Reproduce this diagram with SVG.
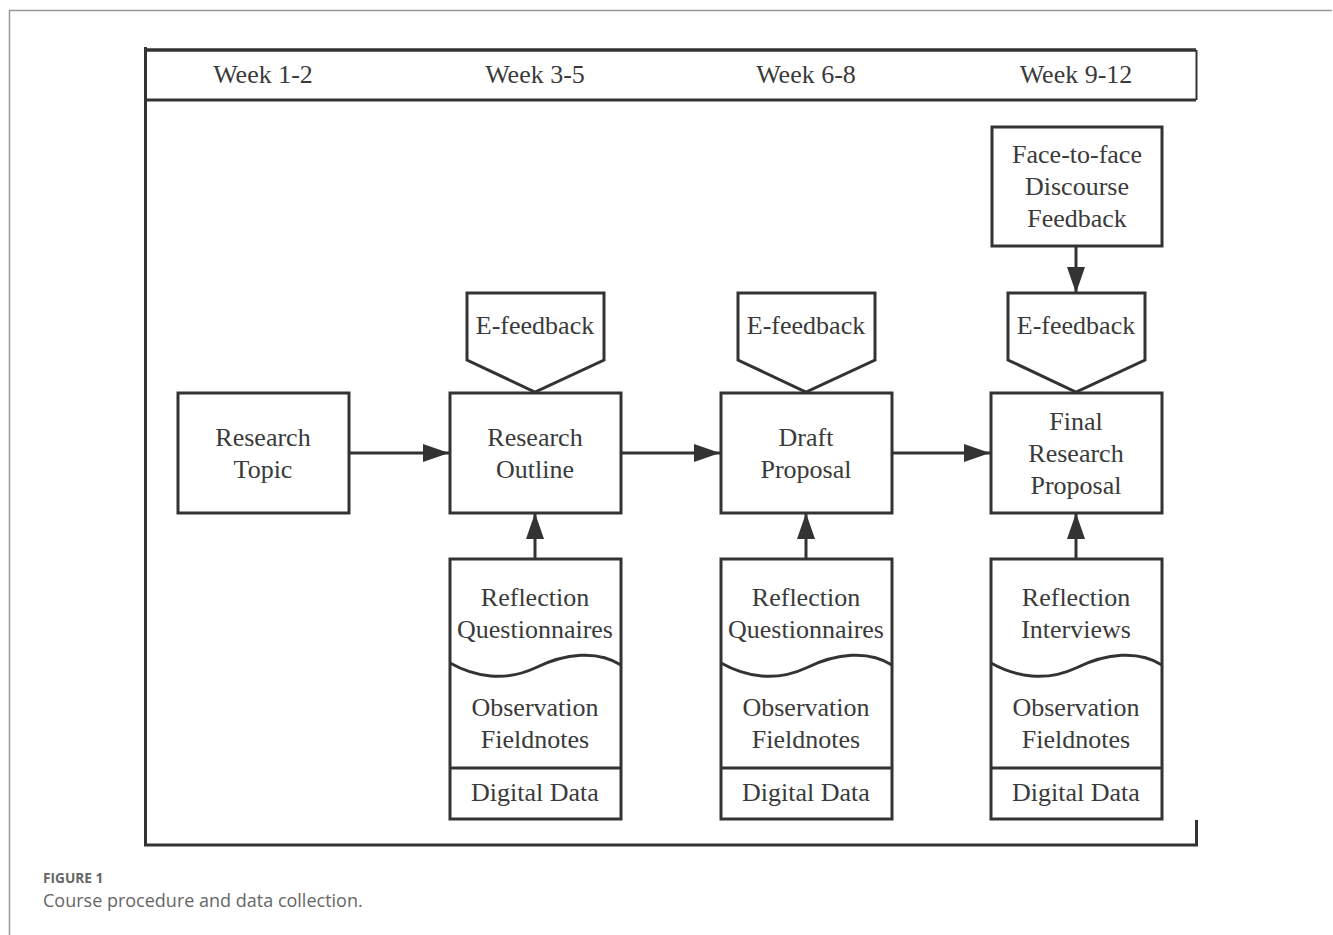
<svg xmlns="http://www.w3.org/2000/svg" width="1333" height="935" viewBox="0 0 1333 935">
<style>
.b{fill:#fff;stroke:#333;stroke-width:3}
.t{font-family:"Liberation Serif","Times New Roman",serif;font-size:26px;fill:#3a3a3a;text-anchor:middle}
.c{stroke:#333;stroke-width:3;fill:none}
.cap{font-family:"Open Sans","Noto Sans",sans-serif;fill:#666}
</style>
<defs>
<marker id="ah" viewBox="0 0 26 18" refX="26" refY="9" markerWidth="26" markerHeight="18" markerUnits="userSpaceOnUse" orient="auto">
<path d="M0,0 L26,9 L0,18 z" fill="#333"/>
</marker>
</defs>
<rect width="1333" height="935" fill="#fff"/>
<path d="M9.5,935 V10.5 H1332" fill="none" stroke="#999" stroke-width="1.5"/>
<g id="frame">
<path d="M145.5,47 V845 H1196.5 V820" fill="none" stroke="#333" stroke-width="3"/>
<path d="M145.5,50 H1196" fill="none" stroke="#333" stroke-width="3.5"/>
<path d="M145.5,100 H1196" fill="none" stroke="#333" stroke-width="3"/>
<path d="M1196.5,50 V100" fill="none" stroke="#333" stroke-width="2"/>
<text class="t" x="263" y="83">Week 1-2</text>
<text class="t" x="535" y="83">Week 3-5</text>
<text class="t" x="806" y="83">Week 6-8</text>
<text class="t" x="1076" y="83">Week 9-12</text>
</g>
<g id="connectors">
<path class="c" d="M349,453 H449" marker-end="url(#ah)"/>
<path class="c" d="M621,453 H720" marker-end="url(#ah)"/>
<path class="c" d="M892,453 H990" marker-end="url(#ah)"/>
<path class="c" d="M535,559 V513" marker-end="url(#ah)"/>
<path class="c" d="M806,559 V513" marker-end="url(#ah)"/>
<path class="c" d="M1076,559 V513" marker-end="url(#ah)"/>
<path class="c" d="M1076,246 V293" marker-end="url(#ah)"/>
</g>
<g id="research-topic">
<rect class="b" x="178" y="393" width="171" height="120"/>
<text class="t" x="263" y="446">Research</text>
<text class="t" x="263" y="478">Topic</text>
</g>
<g id="research-outline">
<rect class="b" x="450" y="393" width="171" height="120"/>
<text class="t" x="535" y="446">Research</text>
<text class="t" x="535" y="478">Outline</text>
</g>
<g id="draft-proposal">
<rect class="b" x="721" y="393" width="171" height="120"/>
<text class="t" x="806" y="446">Draft</text>
<text class="t" x="806" y="478">Proposal</text>
</g>
<g id="final-proposal">
<rect class="b" x="991" y="393" width="171" height="120"/>
<text class="t" x="1076" y="430">Final</text>
<text class="t" x="1076" y="462">Research</text>
<text class="t" x="1076" y="494">Proposal</text>
</g>
<g id="face-to-face">
<rect class="b" x="992" y="127" width="170" height="119"/>
<text class="t" x="1077" y="163">Face-to-face</text>
<text class="t" x="1077" y="195">Discourse</text>
<text class="t" x="1077" y="227">Feedback</text>
</g>
<g id="efeedback-1">
<path class="b" d="M467,293 H604 V360 L535,392 L467,360 Z"/>
<text class="t" x="535" y="334">E-feedback</text>
</g>
<g id="efeedback-2">
<path class="b" d="M738,293 H875 V360 L806,392 L738,360 Z"/>
<text class="t" x="806" y="334">E-feedback</text>
</g>
<g id="efeedback-3">
<path class="b" d="M1008,293 H1145 V360 L1076,392 L1008,360 Z"/>
<text class="t" x="1076" y="334">E-feedback</text>
</g>
<g id="data-1">
<rect class="b" x="450" y="559" width="171" height="260"/>
<path class="c" d="M450,663 C475,677 505,682 535,668 C565,653 598,650 621,665"/>
<path class="c" d="M450,768 H621"/>
<text class="t" x="535" y="606">Reflection</text>
<text class="t" x="535" y="638">Questionnaires</text>
<text class="t" x="535" y="716">Observation</text>
<text class="t" x="535" y="748">Fieldnotes</text>
<text class="t" x="535" y="801">Digital Data</text>
</g>
<g id="data-2">
<rect class="b" x="721" y="559" width="171" height="260"/>
<path class="c" d="M721,663 C746,677 776,682 806,668 C836,653 869,650 892,665"/>
<path class="c" d="M721,768 H892"/>
<text class="t" x="806" y="606">Reflection</text>
<text class="t" x="806" y="638">Questionnaires</text>
<text class="t" x="806" y="716">Observation</text>
<text class="t" x="806" y="748">Fieldnotes</text>
<text class="t" x="806" y="801">Digital Data</text>
</g>
<g id="data-3">
<rect class="b" x="991" y="559" width="171" height="260"/>
<path class="c" d="M991,663 C1016,677 1046,682 1076,668 C1106,653 1139,650 1162,665"/>
<path class="c" d="M991,768 H1162"/>
<text class="t" x="1076" y="606">Reflection</text>
<text class="t" x="1076" y="638">Interviews</text>
<text class="t" x="1076" y="716">Observation</text>
<text class="t" x="1076" y="748">Fieldnotes</text>
<text class="t" x="1076" y="801">Digital Data</text>
</g>
<g id="caption">
<text class="cap" x="43" y="883" font-size="13.7" font-weight="bold">FIGURE 1</text>
<text class="cap" x="43" y="907" font-size="18">Course procedure and data collection.</text>
</g>
</svg>
